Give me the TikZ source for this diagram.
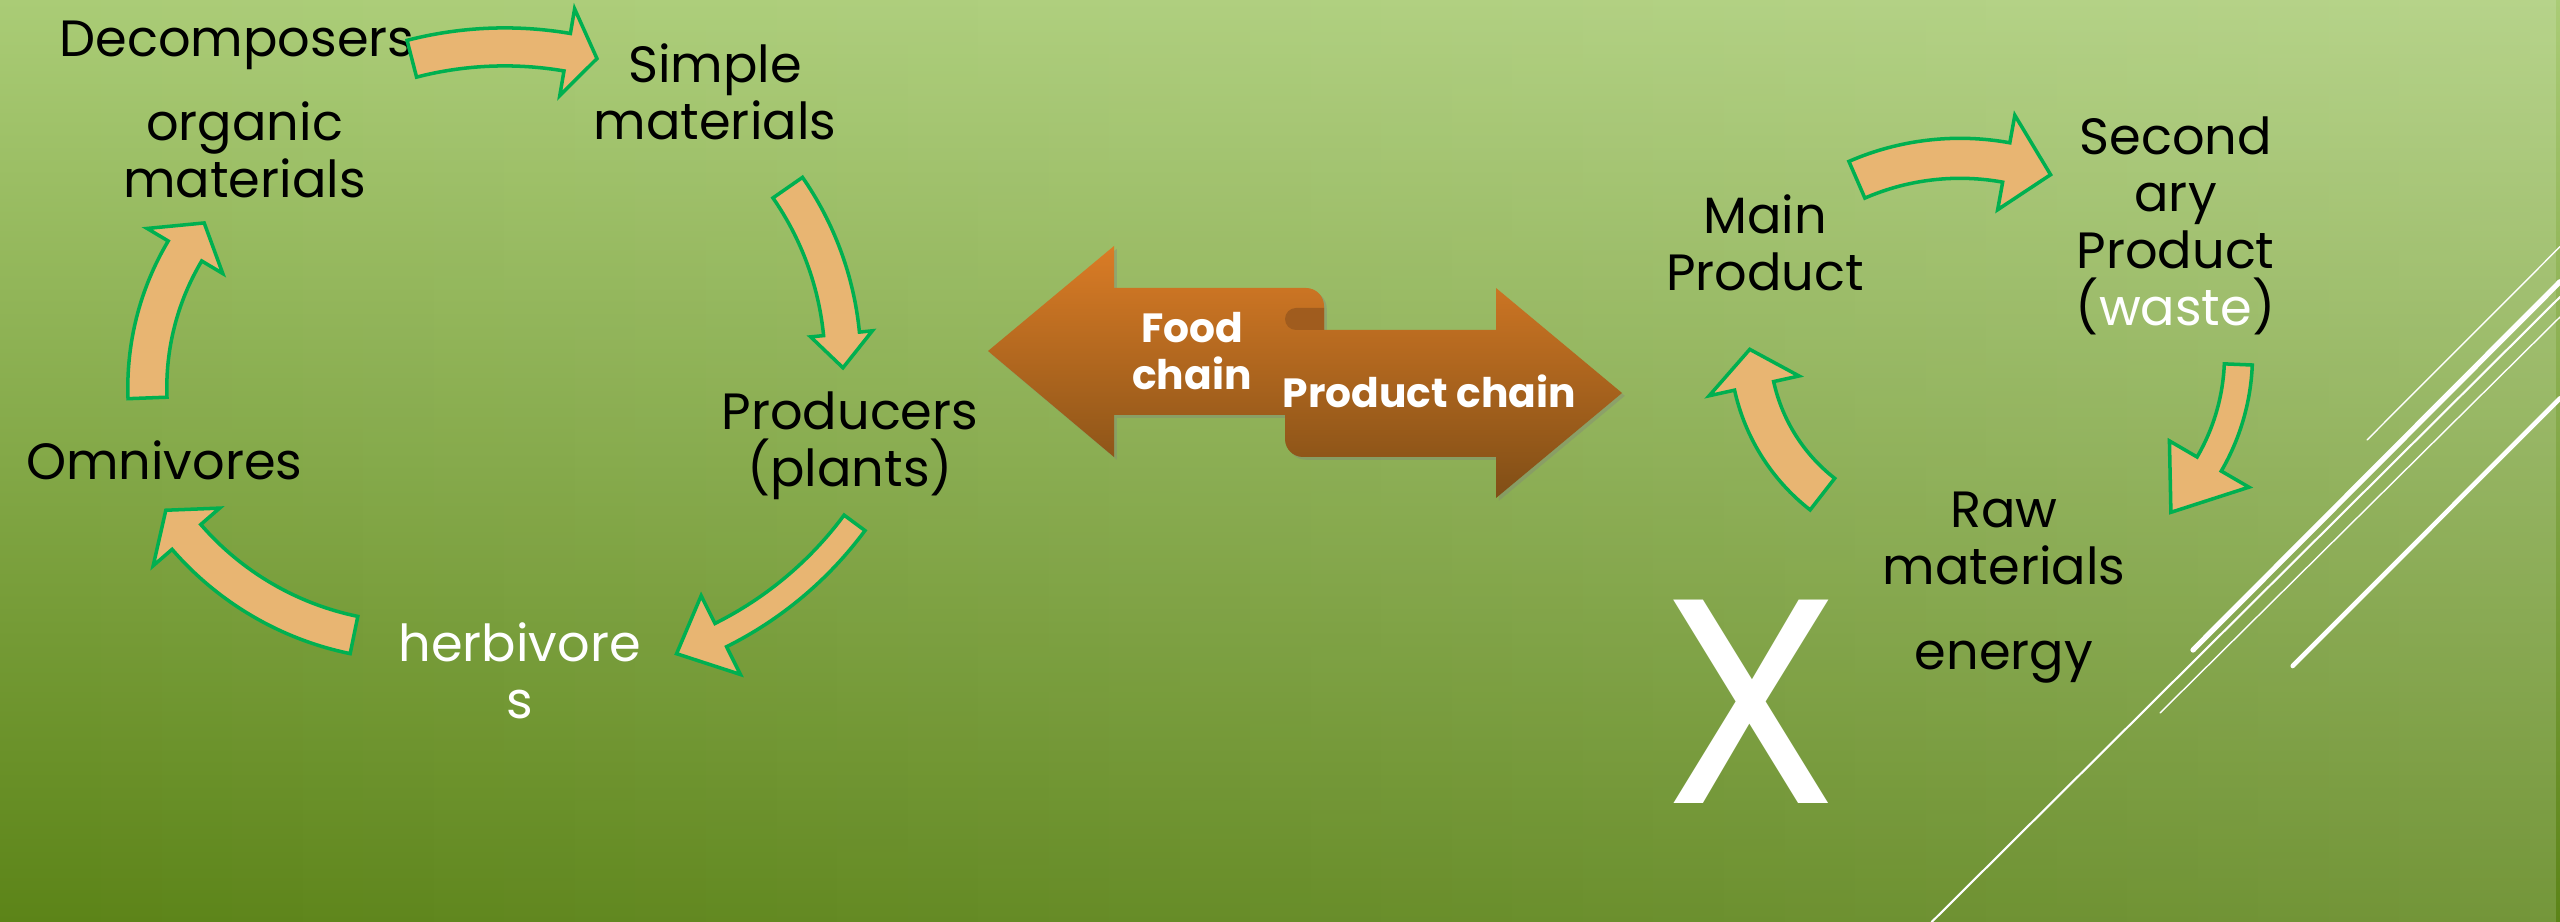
\documentclass[tikz,border=0pt]{standalone}
\usepackage{fontspec}
\setmainfont{Poppins}
\usetikzlibrary{shadows, fadings}

\definecolor{bgtop}{RGB}{170,204,118}
\definecolor{bgbottom}{RGB}{92,132,24}
\definecolor{arrowfill}{RGB}{232,181,114}
\definecolor{arrowline}{RGB}{0,176,80}
\definecolor{chaintop}{RGB}{218,124,38}
\definecolor{chainbottom}{RGB}{128,78,22}
\definecolor{chainfold}{RGB}{160,92,30}

% curved block arrow: centre, radius, start angle, end angle, tip angle, half width, barb
\newcommand{\cyclearrow}[7]{%
  \draw[blockarrow] ([shift={#1}]#3:{#2+#6}) arc[start angle=#3, end angle=#4, radius={#2+#6}]
    -- ([shift={#1}]#4:{#2+#7}) -- ([shift={#1}]#5:#2) -- ([shift={#1}]#4:{#2-#7})
    -- ([shift={#1}]#4:{#2-#6}) arc[start angle=#4, end angle=#3, radius={#2-#6}] -- cycle;}

\begin{document}
\begin{tikzpicture}[x=0.01cm, y=-0.01cm,
    txt/.style={font=\fontsize{14.5}{16.2}\selectfont, align=center, inner sep=0pt},
    chaintxt/.style={font=\fontsize{11.6}{13.5}\selectfont\bfseries, align=center, inner sep=0pt, text=white},
    blockarrow/.style={fill=arrowfill, draw=arrowline, line width=1pt},
    slash/.style={white, line cap=round}]
    % Background
    \useasboundingbox (0,0) rectangle (2560,922);
    \shade[top color=bgtop, bottom color=bgbottom] (0,0) rectangle (2560,922);
    \fill[white, opacity=0.15, path fading=west] (0,0) rectangle (2560,922);

    % Food cycle
    \node[txt, anchor=base] (decomp) at (237,56.7) {Decomposers};
    \node[txt] (simple) at (715,91.7) {Simple\\materials};
    \node[txt] (organic) at (244.6,150) {organic\\materials};
    \node[txt] (producers) at (850,445.8) {Producers\\(plants)};
    \node[txt, anchor=base] (omni) at (164.2,480) {Omnivores};
    \node[txt, text=white] (herbi) at (519.7,670.5) {herbivore\\s};

    \cyclearrow{(504.7,417.9)}{371}{-104.5}{-80.3}{-75.6}{19}{44}
    \cyclearrow{(534,364)}{309}{-34.8}{-5.6}{0.7}{18}{31}
    \cyclearrow{(553.9,300.4)}{374}{36.5}{63.5}{70.85}{13}{44}
    \cyclearrow{(414.7,339.2)}{302}{101.6}{139.1}{145.5}{19}{44}
    \cyclearrow{(414.3,387.7)}{267}{177.8}{210.8}{218.1}{19.5}{44}

    % Double arrow in the middle
    \path[top color=chaintop, bottom color=chainbottom,
        drop shadow={shadow xshift=0.8pt, shadow yshift=-0.8pt, opacity=0.35}]
        (988,351) -- (1114,246) -- (1114,288) -- (1306,288)
        arc[start angle=-90, end angle=0, radius=18] -- (1324,330) -- (1496,330)
        -- (1496,288) -- (1622,393) -- (1496,498) -- (1496,457) -- (1303,457)
        arc[start angle=90, end angle=180, radius=18] -- (1285,415) -- (1114,415)
        -- (1114,457) -- cycle;
    \fill[chainfold] (1324,308) -- (1296,308) arc[start angle=-90, end angle=-270, radius=11]
        -- (1324,330) -- cycle;
    \node[chaintxt] (food) at (1192,351.3) {Food\\chain};
    \node[chaintxt, anchor=base] (prodchain) at (1429.4,407.3) {Product chain};

    % Product cycle
    \node[txt] (mainprod) at (1765,243) {Main\\Product};
    \node[txt] (secprod) at (2175.6,225.8) {Second\\ary\\Product\\(\textcolor{white}{waste})};
    \node[txt] (raw) at (2004,538.3) {Raw\\materials};
    \node[txt, anchor=base] (energy) at (2004,670) {energy};
    \node[txt, text=white, anchor=base, font=\fontsize{83}{90}\selectfont] (bigx) at (1751,803.3) {X};

    \cyclearrow{(1960,416.9)}{258.6}{-113.5}{-79.7}{-69.5}{20}{48}
    \cyclearrow{(2022.5,355.4)}{216}{2.4}{30.2}{46.6}{14}{46}
    \cyclearrow{(1938.2,345.4)}{188.5}{127.9}{167.6}{178.8}{20}{46}

    % Slanted lines
    \draw[slash, line width=0.4pt] (2560,246.7) -- (2367,440);
    \draw[slash, line width=1.5pt] (2560,281.7) -- (2193,650);
    \draw[slash, line width=0.6pt] (2560,297) -- (1931.7,922);
    \draw[slash, line width=0.4pt] (2560,317) -- (2160,713);
    \draw[slash, line width=1.3pt] (2560,398.3) -- (2292.7,666);
\end{tikzpicture}
\end{document}
